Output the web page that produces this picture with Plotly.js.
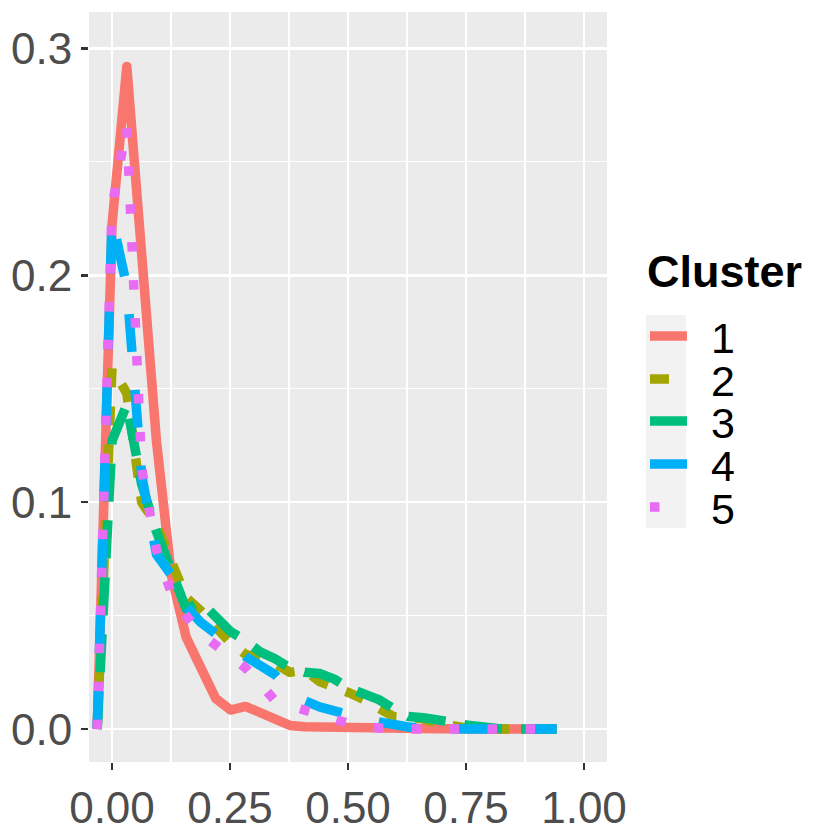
<!DOCTYPE html>
<html>
<head>
<meta charset="utf-8">
<script src="https://cdn.plot.ly/plotly-3.0.1.min.js"></script>
<style>
  html, body { margin: 0; padding: 0; background: #fff; }
  #chart { width: 831px; height: 831px; }
  /* ggplot draws lines with round joins */
  .scatterlayer .js-line, .legend .js-line { stroke-linejoin: round; }
</style>
</head>
<body>
<div id="chart"></div>
<script>
// ---- data (frequency polygon, share per bin) ----
const CLUSTERS = ["1", "2", "3", "4", "5"];

const BIN_CENTERS = [
  -0.0314, 0.0000, 0.0314, 0.0628, 0.0942, 0.1256, 0.1570, 0.1884, 0.2198, 0.2512,
   0.2826, 0.3140, 0.3454, 0.3768, 0.4082, 0.4396, 0.4710, 0.5024, 0.5338, 0.5652,
   0.5966, 0.6280, 0.6594, 0.6908, 0.7222, 0.7536, 0.7850, 0.8164, 0.8478, 0.8792,
   0.9106, 0.9420
];

const SHARE_1 = [
  0, 0.222, 0.292, 0.211, 0.127, 0.068, 0.0405, 0.027, 0.0135, 0.0084,
  0.010, 0.0073, 0.0042, 0.0016, 0.0010, 0.0008, 0.0007, 0.0006, 0.0005, 0.0004,
  0.0003, 0.0003, 0.0002, 0.0002, 0.0001, 0.0001, 0.0001, 0, 0, 0,
  0, 0
];
const SHARE_2 = [
  0, 0.159, 0.148, 0.100, 0.090, 0.073, 0.058, 0.052, 0.045, 0.038,
  0.033, 0.031, 0.029, 0.025, 0.026, 0.021, 0.019, 0.016, 0.013, 0.009,
  0.0055, 0.0052, 0.0045, 0.0025, 0.001, 0.0004, 0, 0, 0, 0,
  0, 0
];
const SHARE_3 = [
  0, 0.127, 0.143, 0.108, 0.087, 0.069, 0.053, 0.056, 0.049, 0.043,
  0.039, 0.034, 0.031, 0.027, 0.025, 0.0245, 0.022, 0.018, 0.0155, 0.013,
  0.009, 0.0055, 0.005, 0.0043, 0.003, 0.0017, 0.0007, 0.0003, 0, 0,
  0, 0
];
const SHARE_4 = [
  0, 0.225, 0.195, 0.112, 0.077, 0.068, 0.054, 0.047, 0.042, 0.038,
  0.032, 0.0285, 0.024, 0.017, 0.0125, 0.0098, 0.0078, 0.0058, 0.0045, 0.0032,
  0.0018, 0.0009, 0.0004, 0, 0, 0, 0, 0, 0, 0,
  0, 0
];
const SHARE_5 = [
  0, 0.230, 0.266, 0.115, 0.079, 0.060, 0.050, 0.042, 0.037, 0.032,
  0.027, 0.020, 0.0125, 0.0103, 0.0081, 0.0058, 0.0042, 0.0024, 0.0011, 0.0003,
  0, 0, 0, 0, 0, 0, 0, 0, 0, 0,
  0, 0
];
const SHARES = [SHARE_1, SHARE_2, SHARE_3, SHARE_4, SHARE_5];

// ---- styling (ggplot hue palette + default linetypes at lwd ~9.5px) ----
const LINE_W = 9.5;
const COLORS = ["#F8766D", "#A3A500", "#00BF7D", "#00B0F6", "#E76BF3"];
const DASHES = ["solid", "19px,19px", "38px,19px", "38px,38px", "9.5px,28.5px"];
const FONT = "Liberation Sans, Arial, Helvetica, sans-serif";

// legend row centres and label start (page px), as in the reference
const KEY_ROWS_Y = [336, 379, 421, 464, 507];
const KEY_TEXT_X = 711;

const traces = CLUSTERS.map((name, i) => ({
  type: "scatter",
  mode: "lines",
  name,
  x: BIN_CENTERS,
  y: SHARES[i],
  line: { color: COLORS[i], width: LINE_W, dash: DASHES[i] },
  hoverinfo: "skip",
}));

const PLOT_L = 89, PLOT_R = 607, PLOT_T = 12, PLOT_B = 762;
const px2paperX = p => (p - PLOT_L) / (PLOT_R - PLOT_L);
const px2paperY = p => (PLOT_B - p) / (PLOT_B - PLOT_T);

const axisCommon = {
  showline: false,
  zeroline: false,
  showgrid: true,
  gridcolor: "#FFFFFF",
  gridwidth: 2.6,
  ticks: "outside",
  ticklen: 7,
  tickwidth: 2.6,
  tickcolor: "#333333",
  tickfont: { family: FONT, size: 44, color: "#4D4D4D" },
};

const layout = {
  width: 831,
  height: 831,
  paper_bgcolor: "#FFFFFF",
  plot_bgcolor: "#EBEBEB",
  margin: { l: PLOT_L, r: 831 - PLOT_R, t: PLOT_T, b: 831 - PLOT_B, pad: 0 },
  font: { family: FONT, color: "#000000" },
  xaxis: {
    ...axisCommon,
    range: [-0.0487, 1.0487],
    tick0: 0, dtick: 0.25,
    tickformat: ".2f",
    minor: { dtick: 0.125, tick0: 0, showgrid: true, gridcolor: "#FFFFFF", gridwidth: 1.3, ticks: "" },
  },
  yaxis: {
    ...axisCommon,
    range: [-0.0145, 0.316],
    tick0: 0, dtick: 0.1,
    tickformat: ".1f",
    minor: { dtick: 0.05, tick0: 0, showgrid: true, gridcolor: "#FFFFFF", gridwidth: 1.3, ticks: "" },
  },
  showlegend: true,
  legend: {
    x: px2paperX(645), xanchor: "left",
    y: px2paperY(228), yanchor: "top",
    bgcolor: "rgba(0,0,0,0)",
    borderwidth: 0,
    itemwidth: 37,
    font: { family: FONT, size: 43, color: "#000000" },
    title: { text: "Cluster", font: { family: FONT, size: 45, weight: "bold", color: "#000000" } },
  },
  shapes: [{
    type: "rect", xref: "paper", yref: "paper", layer: "below",
    x0: px2paperX(646), x1: px2paperX(686),
    y0: px2paperY(528), y1: px2paperY(315),
    fillcolor: "#F2F2F2", line: { width: 0 },
  }],
};

Plotly.newPlot("chart", traces, layout, { displayModeBar: false, staticPlot: true })
  .then(gd => {
    // ggplot packs legend rows tighter than plotly does: re-space them,
    // and leave the wider gap between key and label.
    gd.querySelectorAll(".legend .traces").forEach((g, i) => {
      const line = g.querySelector(".legendlines path") || g.querySelector("path");
      if (!line || KEY_ROWS_Y[i] == null) return;
      const r = line.getBoundingClientRect();
      const cy = r.top + r.height / 2;
      const m = /translate\(\s*([-\d.e]+)[ ,]+([-\d.e]+)\s*\)/.exec(g.getAttribute("transform") || "");
      if (!m) return;
      g.setAttribute("transform", `translate(${+m[1]},${+m[2] + KEY_ROWS_Y[i] - cy})`);

      const txt = g.querySelector(".legendtext");
      if (txt) {
        const tx = +(txt.getAttribute("x") || 0);
        const dx = KEY_TEXT_X - txt.getBoundingClientRect().left;
        txt.setAttribute("x", tx + dx);
        txt.querySelectorAll("tspan[x]").forEach(t => t.setAttribute("x", +t.getAttribute("x") + dx));
      }
    });
  });
</script>
</body>
</html>
